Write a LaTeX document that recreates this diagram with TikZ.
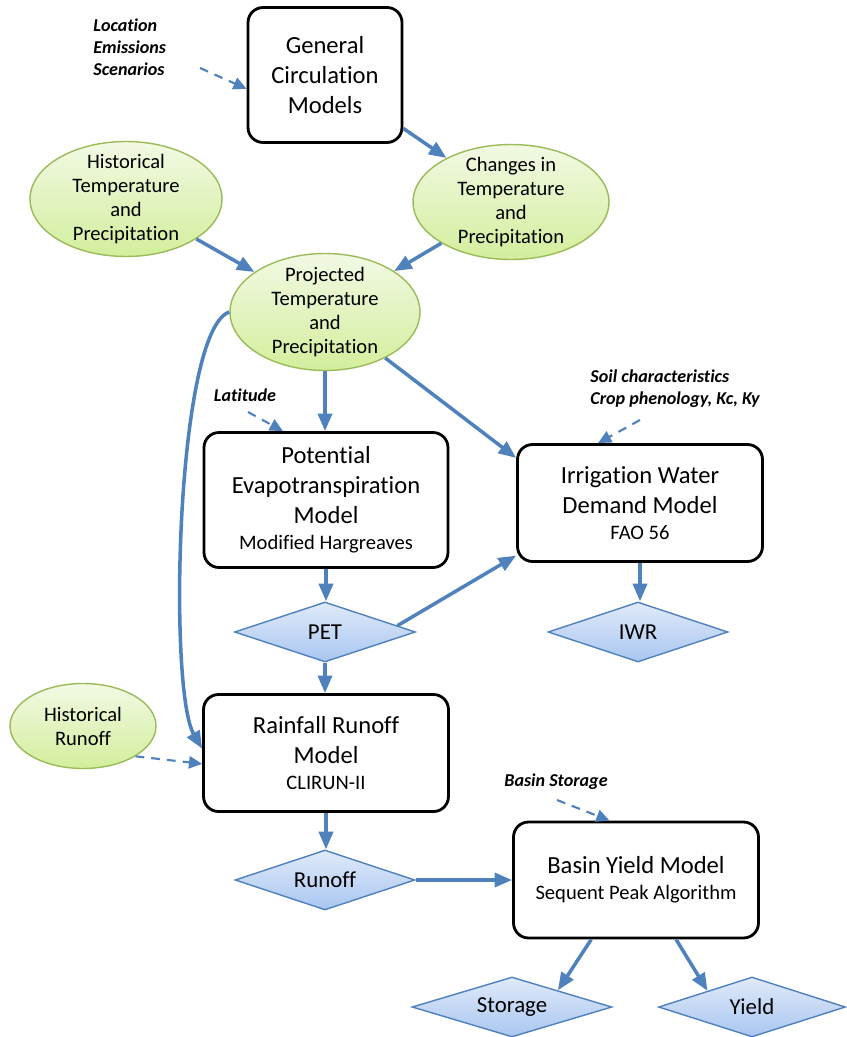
\documentclass[tikz,border=0pt]{standalone}
\usepackage{fontspec}
\setmainfont{Carlito}[Ligatures=NoCommon]
\usetikzlibrary{shapes.geometric,arrows.meta}
\definecolor{arrblue}{HTML}{4F81BD}
\definecolor{grnedge}{HTML}{9BBB59}
\definecolor{grntop}{HTML}{F2F9E4}
\definecolor{grnbot}{HTML}{D3EE9C}
\definecolor{bluetop}{HTML}{E0EAF9}
\definecolor{bluebot}{HTML}{A9C6F1}
\newcommand{\subtxt}{\fontsize{11.7}{14}\selectfont}
\tikzset{
  model/.style={draw=black, line width=1.6pt, rounded corners=0.3cm, fill=white, align=center,
    font=\fontsize{14}{17}\selectfont, inner sep=0pt},
  dataell/.style={ellipse, draw=grnedge, line width=0.8pt, top color=grntop, bottom color=grnbot,
    align=center, font=\fontsize{11.7}{13.6}\selectfont, inner xsep=0pt, inner ysep=-4pt},
  outdia/.style={diamond, aspect=3.2, draw=arrblue, line width=0.8pt, top color=bluetop,
    bottom color=bluebot, font=\fontsize{13}{15}\selectfont, inner sep=0pt, minimum height=1.2cm},
  inlabel/.style={font=\fontsize{10.3}{12.5}\selectfont\bfseries\itshape, align=left, inner sep=0pt},
  flow/.style={-{Triangle[length=10pt,width=8pt]}, draw=arrblue, line width=2pt},
  extin/.style={-{Triangle[length=7.5pt,width=7pt]}, draw=arrblue, line width=1.2pt, dash pattern=on 5pt off 4pt},
}

\begin{document}
\begin{tikzpicture}[x=0.02cm,y=-0.02cm]
        \useasboundingbox (0,0) rectangle (846,1037);
        %nodes
        \node[model, minimum width=3.08cm, minimum height=2.7cm] (gcm) at (325,75) {General\\Circulation\\Models};
        \node[dataell, minimum width=3.84cm, minimum height=2.3cm] (histtp) at (126,199) {Historical\\Temperature\\and\\Precipitation};
        \node[dataell, minimum width=3.92cm, minimum height=2.3cm] (chgtp) at (511,202) {Changes in\\Temperature\\and\\Precipitation};
        \node[dataell, minimum width=3.8cm, minimum height=2.34cm] (projtp) at (325,312) {Projected\\Temperature\\and\\Precipitation};
        \node[model, minimum width=4.88cm, minimum height=2.7cm] (petm) at (326,500) {Potential\\Evapotranspiration\\Model\\[-2pt]{\subtxt Modified Hargreaves}};
        \node[model, minimum width=4.9cm, minimum height=2.34cm] (iwrm) at (640,503) {Irrigation Water\\Demand Model\\[-2pt]{\subtxt FAO 56}};
        \node[outdia, minimum width=3.62cm] (pet) at (325,632) {PET};
        \node[outdia, minimum width=3.6cm] (iwr) at (638,632) {IWR};
        \node[dataell, minimum width=2.92cm, minimum height=1.7cm] (histro) at (83,726) {Historical\\Runoff};
        \node[model, minimum width=4.9cm, minimum height=2.34cm] (rrm) at (326,753) {Rainfall Runoff\\Model\\[-2pt]{\subtxt CLIRUN-II}};
        \node[outdia, minimum width=3.6cm] (runoff) at (325,880) {Runoff};
        \node[model, minimum width=4.9cm, minimum height=2.32cm] (bym) at (636,880) {Basin Yield Model\\[-2pt]{\subtxt Sequent Peak Algorithm}};
        \node[outdia, minimum width=4.0cm] (stor) at (512,1007) {Storage};
        \node[outdia, minimum width=3.74cm] (yld) at (752,1007) {Yield};
        %inputs
        \node[inlabel, anchor=west] (locem) at (93,47) {Location\\Emissions\\Scenarios};
        \node[inlabel] (lat) at (245,395) {Latitude};
        \node[inlabel, anchor=west] (soil) at (590,389) {Soil characteristics\\Crop phenology, Kc, Ky};
        \node[inlabel] (bstor) at (556,782) {Basin Storage};
        \coordinate (locem-s) at (200,68);
        \coordinate (lat-s) at (248,412);
        \coordinate (soil-s) at (640,420);
        \coordinate (bstor-s) at (557,800);
        %edges
        \draw[flow] (gcm) -- (chgtp);
        \draw[flow] (histtp) -- (projtp);
        \draw[flow] (chgtp) -- (projtp);
        \draw[flow] (projtp.south) -- (projtp.south |- petm.north);
        \draw[flow] (projtp) -- (iwrm.160);
        \draw[flow] (petm.south) -- (petm.south |- pet.north);
        \draw[flow] (pet.5) -- (iwrm.203);
        \draw[flow] (iwrm.south) -- (iwrm.south |- iwr.north);
        \draw[flow] (pet.south) -- (pet.south |- rrm.north);
        \draw[flow] (projtp.west) .. controls (176,330) and (168,690) .. (rrm.178);
        \draw[flow] (rrm.south) -- (rrm.south |- runoff.north);
        \draw[flow] (runoff) -- (bym);
        \draw[flow] (bym.233) -- (stor.20);
        \draw[flow] (bym.-56) -- (yld.160);
        %dashed inputs
        \draw[extin] (locem-s) -- (gcm.190);
        \draw[extin] (lat-s) -- (petm.122);
        \draw[extin] (soil-s) -- (iwrm.125);
        \draw[extin] (histro.-30) -- (rrm.185);
        \draw[extin] (bstor-s) -- (bym.114);
\end{tikzpicture}
\end{document}
